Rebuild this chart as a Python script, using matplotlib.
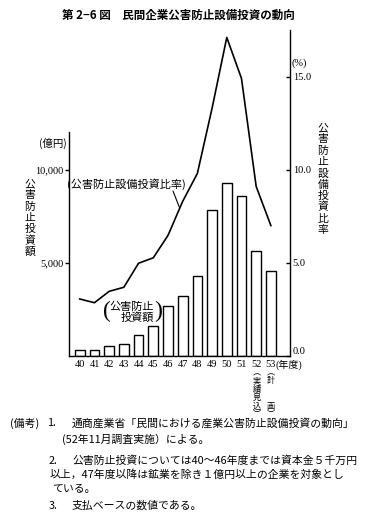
import matplotlib
matplotlib.use('Agg')
import matplotlib.pyplot as plt
import numpy as np

W, H = 370, 518

# fiscal years (Showa), invest = pollution-control investment (100 million yen), ratio = share (%)
years = ['40', '41', '42', '43', '44', '45', '46', '47', '48', '49', '50', '51', '52', '53']
invest = [320, 320, 540, 630, 1130, 1610, 2690, 3210, 4310, 7820, 9260, 8570, 5660, 4550]
ratio = [3.06, 2.86, 3.47, 3.69, 4.98, 5.27, 6.47, 8.3, 9.8, 13.3, 17.1, 14.9, 9.1, 7.0]

left_ticks = [5000, 10000]
left_labels = ['5,000', '10,000']
right_ticks = [0, 5, 10, 15]
right_labels = ['0.0', '5.0', '10.0', '15.0']

title = '第 2−6 図　民間企業公害防止設備投資の動向'
notes = [
    ('(備考)', 10, 423), ('1.', 47, 423),
    ('通商産業省「民間における産業公害防止設備投資の動向」', 72, 423),
    ('(52年11月調査実施）による。', 62, 439),
    ('2.', 49, 461),
    ('公害防止投資については40〜46年度までは資本金５千万円', 72, 461),
    ('以上，47年度以降は鉱業を除き１億円以上の企業を対象とし', 50, 475),
    ('ている。', 52, 489),
    ('3.', 49, 506), ('支払ベースの数値である。', 72, 506),
]

jp = ['Noto Sans CJK JP', 'DejaVu Sans']
num = ['Liberation Serif', 'Noto Sans CJK JP', 'DejaVu Sans']

fig = plt.figure(figsize=(W / 100, H / 100), dpi=100)
fig.patch.set_facecolor('white')


def fx(px):
    return px / W


def fy(py):
    return 1 - py / H


def vtext(xp, ys, chars, size=7.8):
    # stacked vertical text, one char per row
    for yp, c in zip(ys, chars):
        fig.text(fx(xp), fy(yp), c, ha='center', va='center', fontsize=size, family=jp)


ax = fig.add_axes([fx(69), fy(356), (290 - 69) / W, (356 - 30) / H])
xs = np.arange(len(years))
ax.bar(xs, invest, width=0.66, color='white', edgecolor='black', linewidth=1.0)
ax.set_xlim(-0.73, 14.3)
ax.set_ylim(0, 17500)
ax.spines['top'].set_visible(False)
ax.spines['right'].set_visible(False)
ax.spines['left'].set_bounds(0, 12000)
for s in ['left', 'bottom']:
    ax.spines[s].set_linewidth(1.0)
ax.set_yticks(left_ticks, left_labels, family=num, fontsize=7.5)
ax.tick_params(axis='y', direction='out', length=3, width=1, pad=1)
ax.set_xticks(xs, years, family=num, fontsize=7.5)
ax.tick_params(axis='x', length=0, pad=3)

ax2 = ax.twinx()
ax2.plot(xs, ratio, color='black', linewidth=1.2)
ax2.set_ylim(0, 17.5)
for s in ['top', 'left', 'bottom']:
    ax2.spines[s].set_visible(False)
ax2.spines['right'].set_linewidth(1.0)
ax2.set_yticks(right_ticks, right_labels, family=num, fontsize=7.5)
ax2.tick_params(axis='y', direction='in', length=3, width=1, pad=2)
ax2.get_yticklabels()[0].set_va('bottom')

# title
fig.text(fx(178), fy(15), title, ha='center', va='center', fontsize=8.3,
         fontweight='bold', family=jp)

# axis units and labels
fig.text(fx(67), fy(143), '(億円)', ha='right', va='center', fontsize=7.5, family=jp)
fig.text(fx(292), fy(63), '(%)', ha='left', va='center', fontsize=7.5, family=num)
vtext(30, np.linspace(184, 252, 7), '公害防止投資額')
vtext(323, np.linspace(128, 230, 10), '公害防止設備投資比率')

# year unit and sub-labels
fig.text(fx(276), fy(365), '(年度)', ha='left', va='center', fontsize=7.2, family=num)
vtext(256.5, [373, 381, 389.3, 397.6, 406, 414], '︵実績見込︶', size=5.9)
vtext(270.5, [373, 381, 406, 414], '︵計画︶', size=5.9)

# series labels
fig.text(fx(67), fy(184), '(公害防止設備投資比率)', ha='left', va='center',
         fontsize=8.0, family=jp)
px = 6.8
ax2.annotate('', xy=(px, np.interp(px, xs, ratio)), xytext=(fx(173), fy(191)),
             textcoords='figure fraction',
             arrowprops=dict(arrowstyle='-', color='black', lw=0.8, shrinkA=0, shrinkB=0))
fig.text(fx(154), fy(312), '公害防止\n投資額', ha='right', va='center', fontsize=8.0,
         family=jp, multialignment='right', linespacing=1.0)
fig.text(fx(107), fy(311), '(', ha='center', va='center', fontsize=17, family=num)
fig.text(fx(158), fy(311), ')', ha='center', va='center', fontsize=17, family=num)

# notes
for t, xp, yp in notes:
    fig.text(fx(xp), fy(yp), t, ha='left', va='center', fontsize=7.8, family=jp)

fig.savefig('out.png', dpi=100)
